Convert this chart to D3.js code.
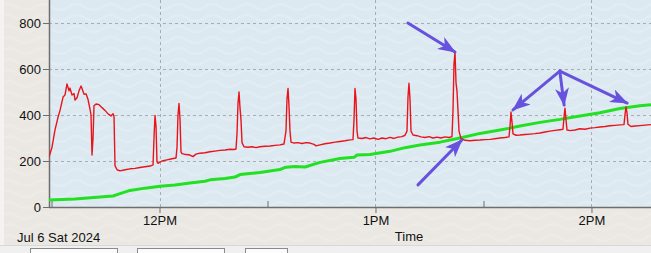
<!DOCTYPE html>
<html>
<head>
<meta charset="UTF-8">
<title>Time chart</title>
<script src="https://d3js.org/d3.v7.min.js"></script>
<style>
  body { margin: 0; background: #f0f0f0; }
  svg { display: block; font-family: "Liberation Sans", Arial, sans-serif; }
  .tick text { font-size: 13px; fill: #111; }
</style>
</head>
<body>
<div id="chart"></div>
<script>
// red series (time of day, value)
const redTime = ["11:29:18","11:30:08","11:30:58","11:31:48","11:32:22","11:33:12","11:33:45","11:34:18","11:34:52","11:35:08",
  "11:35:42","11:36:15","11:36:32","11:37:05","11:37:38","11:38:12","11:38:28","11:39:02","11:39:35","11:40:08",
  "11:40:42","11:40:58","11:41:15","11:41:32","11:41:48","11:42:22","11:43:12","11:44:02","11:44:52","11:45:42",
  "11:46:32","11:47:05","11:47:22","11:47:38","11:48:12","11:49:02","11:50:25","11:51:48","11:53:12","11:54:35",
  "11:55:58","11:57:22","11:58:12","11:58:28","11:58:45","11:59:02","11:59:18","11:59:35","12:00:42","12:02:05",
  "12:03:28","12:04:35","12:04:52","12:05:08","12:05:25","12:05:42","12:05:58","12:06:15","12:07:22","12:08:28",
  "12:09:18","12:10:08","12:11:15","12:12:38","12:14:02","12:15:25","12:16:48","12:18:12","12:19:35","12:20:42",
  "12:21:15","12:21:32","12:21:48","12:22:05","12:22:22","12:22:38","12:22:55","12:23:28","12:24:35","12:25:42",
  "12:26:48","12:27:55","12:29:18","12:30:42","12:32:05","12:33:28","12:34:35","12:35:08","12:35:25","12:35:42",
  "12:35:58","12:36:15","12:36:32","12:37:22","12:38:28","12:39:35","12:40:42","12:41:48","12:42:55","12:43:28",
  "12:44:35","12:45:58","12:47:22","12:48:45","12:50:08","12:51:32","12:52:55","12:53:45","12:54:02","12:54:18",
  "12:54:35","12:54:52","12:55:08","12:56:15","12:57:22","12:58:28","12:59:35","13:00:42","13:01:48","13:02:55",
  "13:04:02","13:05:08","13:06:15","13:07:22","13:08:12","13:08:45","13:09:02","13:09:18","13:09:35","13:09:52",
  "13:10:25","13:11:32","13:12:38","13:13:45","13:14:52","13:15:58","13:17:05","13:18:12","13:19:18","13:20:25",
  "13:21:15","13:21:32","13:21:48","13:22:05","13:22:22","13:22:38","13:22:55","13:23:12","13:23:45","13:24:52",
  "13:26:15","13:27:38","13:29:02","13:30:25","13:31:48","13:33:12","13:34:35","13:35:58","13:37:05","13:37:22",
  "13:37:38","13:37:55","13:38:12","13:39:02","13:40:08","13:41:32","13:42:55","13:44:18","13:45:42","13:47:05",
  "13:48:28","13:49:52","13:51:15","13:52:05","13:52:22","13:52:38","13:52:55","13:53:12","13:54:02","13:55:25",
  "13:56:48","13:58:12","13:59:35","14:00:58","14:02:22","14:03:45","14:05:08","14:06:32","14:07:55","14:09:02",
  "14:09:18","14:09:35","14:09:52","14:10:08","14:10:58","14:12:05","14:13:28","14:14:52","14:16:32"];
const redVal = [217,260,335,390,420,478,487,535,505,517,
  487,493,465,475,505,526,515,490,492,468,
  425,400,226,300,440,448,445,432,420,405,
  396,405,395,180,162,157,162,166,168,172,
  175,178,183,300,398,350,196,190,200,205,
  210,213,260,400,450,380,240,232,228,226,
  219,230,234,236,240,243,246,248,251,250,
  252,320,450,500,430,380,280,262,260,262,
  258,262,264,265,268,270,274,330,470,515,
  440,330,282,278,280,276,280,278,272,266,
  270,275,278,282,285,288,292,293,380,515,
  470,330,300,298,302,296,300,294,300,297,
  303,298,304,306,312,330,480,538,470,330,
  313,310,305,302,306,300,304,300,305,302,
  306,420,620,674,540,505,420,330,298,290,
  288,290,291,293,294,297,300,302,305,350,
  413,370,318,312,313,315,317,319,322,326,
  330,333,336,338,390,430,380,335,332,335,
  340,338,343,345,348,350,353,355,357,358,
  400,435,410,360,350,352,354,356,358];

// green series
const greenTime = ["11:29:18","11:36:32","11:43:28","11:47:05","11:49:02","11:51:48","11:55:58","12:00:08","12:04:18","12:08:28",
  "12:12:38","12:14:02","12:18:12","12:20:58","12:22:22","12:27:55","12:33:28","12:35:08","12:37:38","12:40:25",
  "12:44:35","12:50:08","12:54:02","12:54:52","12:58:28","13:04:02","13:08:12","13:12:22","13:17:55","13:23:28",
  "13:29:02","13:34:35","13:37:22","13:40:08","13:45:42","13:51:15","13:56:48","14:02:22","14:07:55","14:13:28","14:16:32"];
const greenVal = [30,35,43,48,58,72,82,90,96,104,
  112,118,124,130,141,150,163,173,176,174,
  194,211,216,226,228,242,258,270,282,300,
  320,335,343,352,368,381,396,410,428,440,445];

// axis labels
const yTicks = [0, 200, 400, 600, 800];
const xMajor = ["12:00:00", "13:00:00", "14:00:00"];
const xMinor = ["11:30:00", "12:30:00", "13:30:00"];
const xMajorLabels = ["12PM", "1PM", "2PM"];
const dateLabel = "Jul 6 Sat 2024";
const axisTitle = "Time";

// annotation arrows: [fromTime, fromVal, toTime, toVal]
const arrows = [
  ["13:09:00", 800, "13:22:05", 674],
  ["13:11:48", 96, "13:24:00", 291],
  ["13:51:12", 591, "13:38:12", 422],
  ["13:51:12", 591, "13:52:24", 443],
  ["13:51:12", 591, "14:09:54", 452]
];

const W = 651, H = 253;
const mLeft = 49, mRight = 651, mTop = 0, mBottom = 207;
const parse = d3.timeParse("%Y-%m-%d %H:%M:%S");
const t = s => parse("2024-07-06 " + s);

const x = d3.scaleTime().domain([t("11:29:18"), t("14:16:32")]).range([mLeft, mRight]);
const y = d3.scaleLinear().domain([0, 900]).range([mBottom, mTop]);

const svg = d3.select("#chart").append("svg").attr("width", W).attr("height", H);
const defs = svg.append("defs");

function wavePattern(id, bg, fg) {
  const p = defs.append("pattern").attr("id", id).attr("patternUnits", "userSpaceOnUse")
    .attr("width", 34).attr("height", 22);
  p.append("rect").attr("width", 34).attr("height", 22).attr("fill", bg);
  p.append("path").attr("d", "M0 7 Q8.5 1 17 7 T34 7 M0 18 Q8.5 12 17 18 T34 18")
    .attr("fill", "none").attr("stroke", fg).attr("stroke-width", 2.5).attr("opacity", 0.55);
}
wavePattern("outerBg", "#ebe8e3", "#efede9");
wavePattern("plotBg", "#dde9f1", "#e3eef5");

// outer frame
svg.append("rect").attr("width", W).attr("height", 245).attr("fill", "url(#outerBg)");
svg.append("rect").attr("width", 4).attr("height", 245).attr("fill", "#f4f3f1");
svg.append("rect").attr("y", 245).attr("width", W).attr("height", 8).attr("fill", "#f0f0f0");
svg.append("line").attr("x1", 0).attr("x2", W).attr("y1", 245.5).attr("y2", 245.5).attr("stroke", "#d8d8d8");
[[30, 87], [137, 87], [245, 42]].forEach(([bx, bw]) => {
  svg.append("rect").attr("x", bx + 0.5).attr("y", 248.5).attr("width", bw).attr("height", 8)
    .attr("fill", "#fbfbfb").attr("stroke", "#8a8a8a");
});

// plot area
svg.append("rect").attr("x", mLeft).attr("y", mTop).attr("width", mRight - mLeft).attr("height", mBottom - mTop)
  .attr("fill", "url(#plotBg)");

defs.append("clipPath").attr("id", "clip").append("rect")
  .attr("x", mLeft).attr("y", mTop).attr("width", mRight - mLeft).attr("height", mBottom - mTop);

// grid
const grid = svg.append("g").attr("stroke", "#a8adb2").attr("stroke-dasharray", "3,3").attr("stroke-width", 1);
grid.selectAll(".hg").data(yTicks.filter(d => d > 0)).enter().append("line")
  .attr("x1", mLeft).attr("x2", mRight)
  .attr("y1", d => Math.round(y(d)) + 0.5).attr("y2", d => Math.round(y(d)) + 0.5);
grid.selectAll(".vg").data(xMajor).enter().append("line")
  .attr("y1", mTop).attr("y2", mBottom)
  .attr("x1", d => Math.round(x(t(d))) + 0.5).attr("x2", d => Math.round(x(t(d))) + 0.5);

// axes
const yAxis = svg.append("g").attr("transform", `translate(${mLeft},0)`)
  .call(d3.axisLeft(y).tickValues(yTicks).tickSize(6).tickPadding(2));
const xAxis = svg.append("g").attr("transform", `translate(0,${mBottom})`)
  .call(d3.axisBottom(x).tickValues(xMajor.map(t)).tickFormat((d, i) => xMajorLabels[i]).tickSize(6).tickPadding(3));
svg.append("g").attr("transform", `translate(0,${mBottom})`)
  .call(d3.axisTop(x).tickValues(xMinor.map(t)).tickFormat("").tickSize(6))
  .call(g => g.select(".domain").remove());
svg.selectAll(".domain").attr("stroke", "#6e6e6e").attr("stroke-width", 1.5);
svg.selectAll(".tick line").attr("stroke", "#6e6e6e");
yAxis.select(".domain").attr("d", `M0.5,${mTop}V${mBottom}`);
xAxis.select(".domain").attr("d", `M${mLeft},0.5H${mRight}`);

svg.append("text").attr("x", 17).attr("y", 242).attr("font-size", 13).attr("fill", "#111").text(dateLabel);
svg.append("text").attr("x", 409).attr("y", 241).attr("font-size", 13).attr("fill", "#111")
  .attr("text-anchor", "middle").text(axisTitle);

// series
const lineGen = d3.line().x(d => x(d[0])).y(d => y(d[1]));
const plot = svg.append("g").attr("clip-path", "url(#clip)");
const green = greenTime.map((s, i) => [t(s), greenVal[i]]);
const red = redTime.map((s, i) => [t(s), redVal[i]]);
plot.append("path").datum(green).attr("d", lineGen)
  .attr("fill", "none").attr("stroke", "#22e022").attr("stroke-width", 3).attr("stroke-linejoin", "round");
plot.append("path").datum(red).attr("d", lineGen)
  .attr("fill", "none").attr("stroke", "#e8141c").attr("stroke-width", 1.4).attr("stroke-linejoin", "round");

// arrows
defs.append("marker").attr("id", "head").attr("markerUnits", "userSpaceOnUse")
  .attr("viewBox", "0 0 18 14").attr("refX", 17).attr("refY", 7)
  .attr("markerWidth", 18).attr("markerHeight", 14).attr("orient", "auto")
  .append("path").attr("d", "M0,0 L18,7 L0,14 L5,7 Z").attr("fill", "#6652dc");
svg.append("g").selectAll("line").data(arrows).enter().append("line")
  .attr("x1", d => x(t(d[0]))).attr("y1", d => y(d[1]))
  .attr("x2", d => x(t(d[2]))).attr("y2", d => y(d[3]))
  .attr("stroke", "#6652dc").attr("stroke-width", 3).attr("stroke-linecap", "round")
  .attr("marker-end", "url(#head)");
</script>
</body>
</html>
